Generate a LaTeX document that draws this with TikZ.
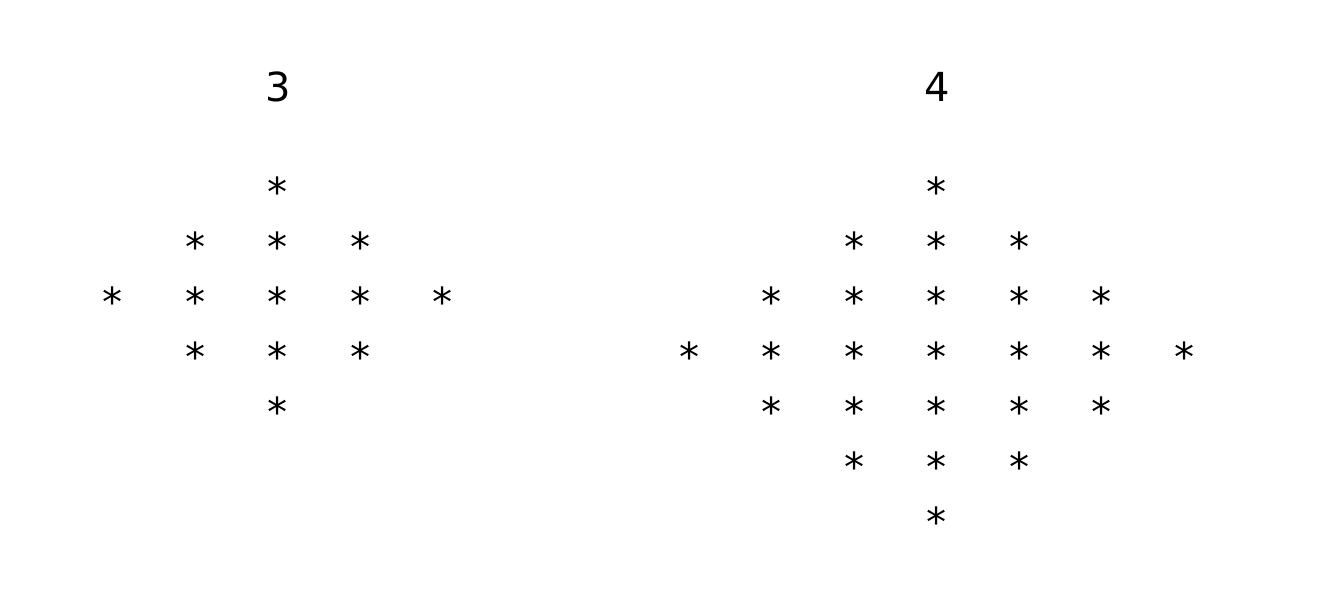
\documentclass[tikz,border=0pt]{standalone}
\usepackage{fontspec}
\setmainfont{DejaVu Sans}
\setmonofont{DejaVu Sans Mono}
\usepackage{tikz}
\usetikzlibrary{positioning}

\begin{document}
\begin{tikzpicture}[
  x=0.75pt, y=-0.75pt,
  every node/.style={inner sep=0pt, font=\fontsize{30}{36}\selectfont},
  star/.style={yshift=-3.75pt, font=\fontsize{30}{36}\selectfont\ttfamily}
]
  \useasboundingbox (0,0) rectangle (1322,616);

  % labels
  \node (lbl3) at (278,87) {3};
  \node (lbl4) at (937,87) {4};

  % diamond of size 3
  \foreach \i in {-2,...,2} {
    \pgfmathtruncatemacro{\w}{2-abs(\i)}
    \foreach \j in {-\w,...,\w} {
      \node[star] (a\i\j) at ({278+82.5*\j},{297+55*\i}) {*};
    }
  }
  % diamond of size 4
  \foreach \i in {-3,...,3} {
    \pgfmathtruncatemacro{\w}{3-abs(\i)}
    \foreach \j in {-\w,...,\w} {
      \node[star] (b\i\j) at ({937+82.5*\j},{352+55*\i}) {*};
    }
  }
\end{tikzpicture}
\end{document}
